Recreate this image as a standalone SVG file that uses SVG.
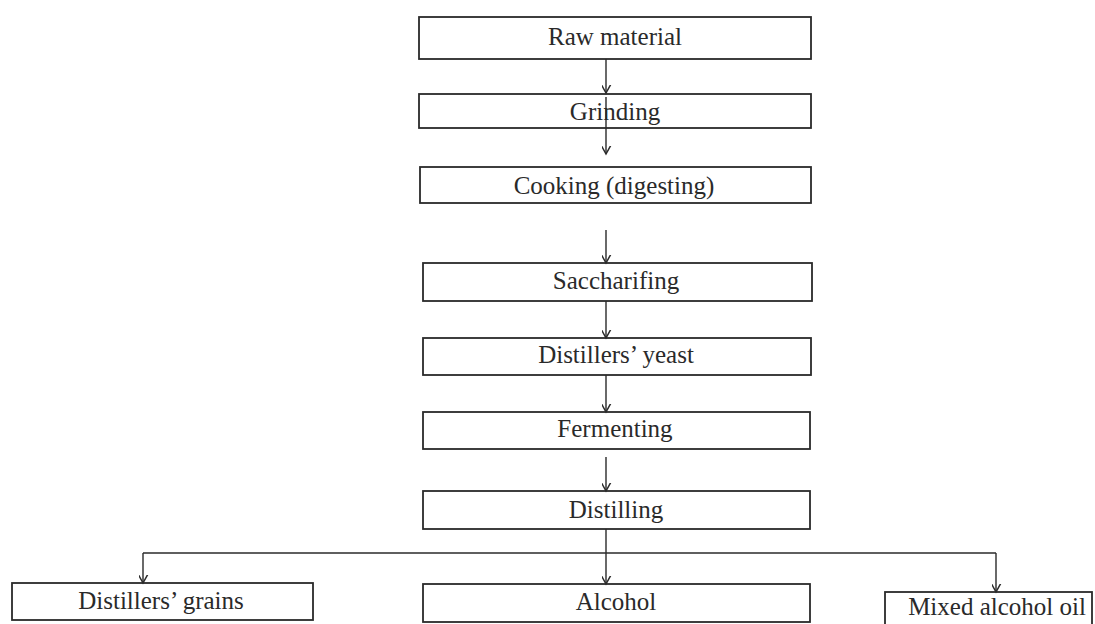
<svg xmlns="http://www.w3.org/2000/svg" width="1095" height="624" viewBox="0 0 1095 624">
<defs>
<style>
.box{fill:#fff;stroke:#2a2a2a;stroke-width:1.8}
.lbl{font-family:"Liberation Serif","Times New Roman",serif;font-size:25px;fill:#2a2a2a;text-anchor:middle}
.con{fill:none;stroke:#2a2a2a;stroke-width:1.4}
</style>
<marker id="ah" markerUnits="userSpaceOnUse" markerWidth="16" markerHeight="16" viewBox="-8 -12 16 16" refX="0" refY="0" orient="auto-start-reverse">
<path d="M-9,-5 L0,0 L-9,5" transform="rotate(0)" fill="none" stroke="#2a2a2a" stroke-width="1.5"/>
</marker>
</defs>
<rect width="1095" height="624" fill="#fff"/>
<g id="n-raw"><rect class="box" x="419" y="17" width="392" height="42"/><text class="lbl" x="615" y="45">Raw material</text></g>
<g id="n-grinding"><rect class="box" x="419" y="94" width="392" height="34"/><text class="lbl" x="615" y="120">Grinding</text></g>
<g id="n-cooking"><rect class="box" x="420" y="167" width="391" height="36"/><text class="lbl" x="614" y="194">Cooking (digesting)</text></g>
<g id="n-sacch"><rect class="box" x="423" y="263" width="389" height="38"/><text class="lbl" x="616" y="289">Saccharifing</text></g>
<g id="n-yeast"><rect class="box" x="423" y="338" width="388" height="37"/><text class="lbl" x="616" y="363">Distillers’ yeast</text></g>
<g id="n-ferment"><rect class="box" x="423" y="412" width="387" height="37"/><text class="lbl" x="615" y="437">Fermenting</text></g>
<g id="n-distil"><rect class="box" x="423" y="491" width="387" height="38"/><text class="lbl" x="616" y="518">Distilling</text></g>
<g id="n-grains"><rect class="box" x="12" y="583" width="301" height="37"/><text class="lbl" x="161" y="609">Distillers’ grains</text></g>
<g id="n-alcohol"><rect class="box" x="423" y="584" width="387" height="38"/><text class="lbl" x="616" y="610">Alcohol</text></g>
<g id="n-oil"><rect class="box" x="885" y="592" width="207" height="34"/><text class="lbl" x="997" y="615">Mixed alcohol oil</text></g>
<g id="connectors">
<line class="con" x1="606" y1="59" x2="606" y2="93" marker-end="url(#ah)"/>
<line class="con" x1="606" y1="97" x2="606" y2="154" marker-end="url(#ah)"/>
<line class="con" x1="606" y1="230" x2="606" y2="263" marker-end="url(#ah)"/>
<line class="con" x1="606" y1="301" x2="606" y2="338" marker-end="url(#ah)"/>
<line class="con" x1="606" y1="375" x2="606" y2="412" marker-end="url(#ah)"/>
<line class="con" x1="606" y1="457" x2="606" y2="491" marker-end="url(#ah)"/>
<line class="con" x1="606" y1="529" x2="606" y2="584" marker-end="url(#ah)"/>
<line class="con" x1="143" y1="553" x2="996" y2="553"/>
<line class="con" x1="143" y1="553" x2="143" y2="583" marker-end="url(#ah)"/>
<line class="con" x1="996" y1="553" x2="996" y2="592" marker-end="url(#ah)"/>
</g>
</svg>
